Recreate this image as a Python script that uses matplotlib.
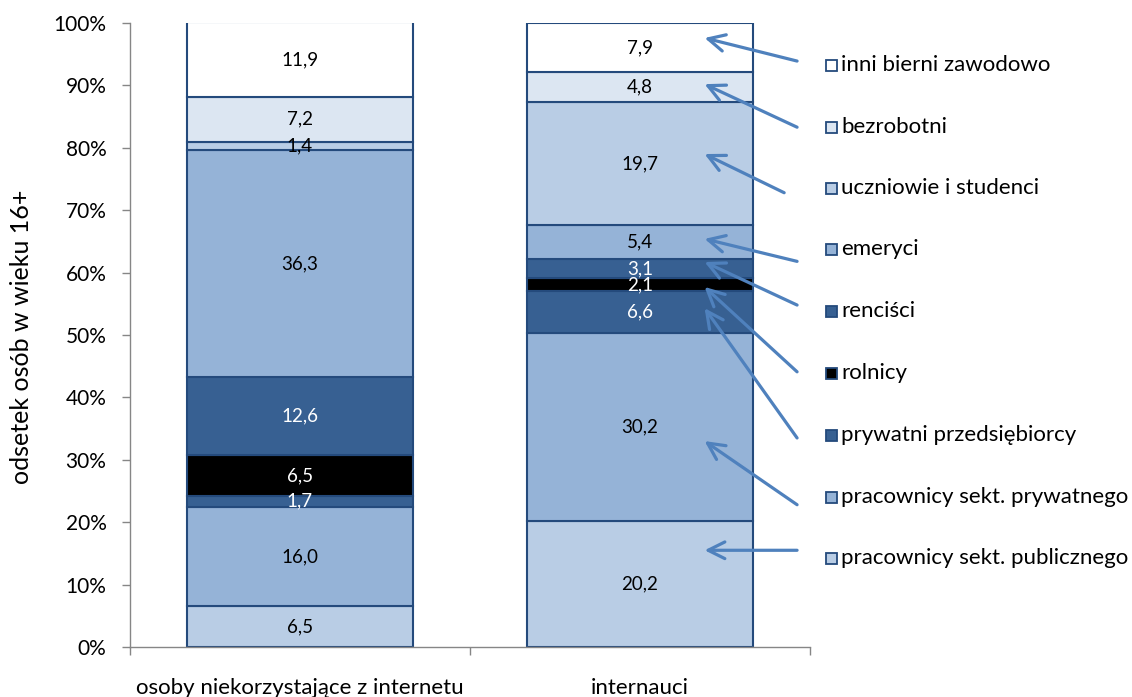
import matplotlib
matplotlib.use("Agg")
import matplotlib.pyplot as plt
from matplotlib.patches import Rectangle
import numpy as np

plt.rcParams['font.family'] = ['Lato', 'DejaVu Sans']

categories = ["osoby niekorzystające z internetu", "internauci"]
series = ["pracownicy sekt. publicznego", "pracownicy sekt. prywatnego",
          "prywatni przedsiębiorcy", "rolnicy", "renciści", "emeryci",
          "uczniowie i studenci", "bezrobotni", "inni bierni zawodowo"]
nie_korzystajacy = [6.5, 16.0, 1.7, 6.5, 12.6, 36.3, 1.4, 7.2, 11.9]
internauci = [20.2, 30.2, 6.6, 2.1, 3.1, 5.4, 19.7, 4.8, 7.9]
yticks = [0, 10, 20, 30, 40, 50, 60, 70, 80, 90, 100]

colors = ["#B9CDE5", "#95B3D7", "#376092", "#000000", "#376092", "#95B3D7",
          "#B9CDE5", "#DCE6F2", "#FFFFFF"]
label_colors = ["black", "black", "white", "white", "white", "black",
                "black", "black", "black"]
edge = "#244A7C"
arrow_color = "#4F81BD"

# arrow head positions (on bar 2) and tail positions (near legend), in data units
head_y = [15.5, 33.0, 54.3, 57.7, 61.7, 65.4, 79.0, 90.2, 97.6]
tail_y = [15.5, 22.8, 33.5, 44.1, 54.8, 61.8, 72.8, 83.3, 93.9]
tail_x = [1.462, 1.462, 1.462, 1.462, 1.462, 1.462, 1.424, 1.462, 1.462]
head_x = 1.19

W, H = 1132, 697
fig = plt.figure(figsize=(W / 100, H / 100), dpi=100)
ax = fig.add_axes([130 / W, 1 - 647 / H, 680 / W, 624 / H])

data = np.array([nie_korzystajacy, internauci])
x = np.arange(len(categories))
bottom = np.zeros(len(categories))
for i, name in enumerate(series):
    vals = data[:, i]
    ax.bar(x, vals, bottom=bottom, width=0.665, color=colors[i],
           edgecolor=edge, linewidth=1.5, label=name, zorder=2)
    for j in range(len(categories)):
        ax.text(x[j], bottom[j] + vals[j] / 2, f"{vals[j]:.1f}".replace(".", ","),
                ha="center", va="center", fontsize=13.5, color=label_colors[i], zorder=3)
    bottom += vals

ax.set_xlim(-0.5, 1.5)
ax.set_ylim(0, 100)
ax.set_yticks(yticks)
ax.set_yticklabels([f"{v}%" for v in yticks], fontsize=15)
ax.set_xticks([-0.5, 0.5, 1.5], minor=False)
ax.set_xticklabels([])
ax.set_xticks(x, minor=True)
ax.set_xticklabels(categories, minor=True, fontsize=16)
ax.tick_params(axis="x", which="minor", length=0, pad=22)
ax.tick_params(axis="x", which="major", length=6, color="#868686", width=1)
ax.tick_params(axis="y", length=6, color="#868686", width=1, pad=11)
for s in ["top", "right"]:
    ax.spines[s].set_visible(False)
for s in ["left", "bottom"]:
    ax.spines[s].set_color("#868686")
    ax.spines[s].set_linewidth(1)
ax.set_ylabel("odsetek osób w wieku 16+", fontsize=18)
ax.yaxis.set_label_coords((33 - 130) / 680, (647 - 337) / 624)

# arrows
for i in range(len(series)):
    ax.annotate("", xy=(head_x, head_y[i]), xytext=(tail_x[i], tail_y[i]),
                arrowprops=dict(arrowstyle="->", color=arrow_color, lw=2.3,
                                mutation_scale=30, shrinkA=0, shrinkB=0),
                annotation_clip=False, zorder=4)

# legend (manual)
leg_y = [558, 497, 435, 373, 311, 249, 188, 127, 65]
for i, name in enumerate(series):
    yc = 1 - leg_y[i] / H
    fig.patches.append(Rectangle((826 / W, yc - 5.5 / H), 11 / W, 11 / H,
                                 transform=fig.transFigure, facecolor=colors[i],
                                 edgecolor=edge, linewidth=1.3))
    fig.text(841 / W, yc, name, ha="left", va="center", fontsize=16)

fig.savefig("out.png", dpi=100)
